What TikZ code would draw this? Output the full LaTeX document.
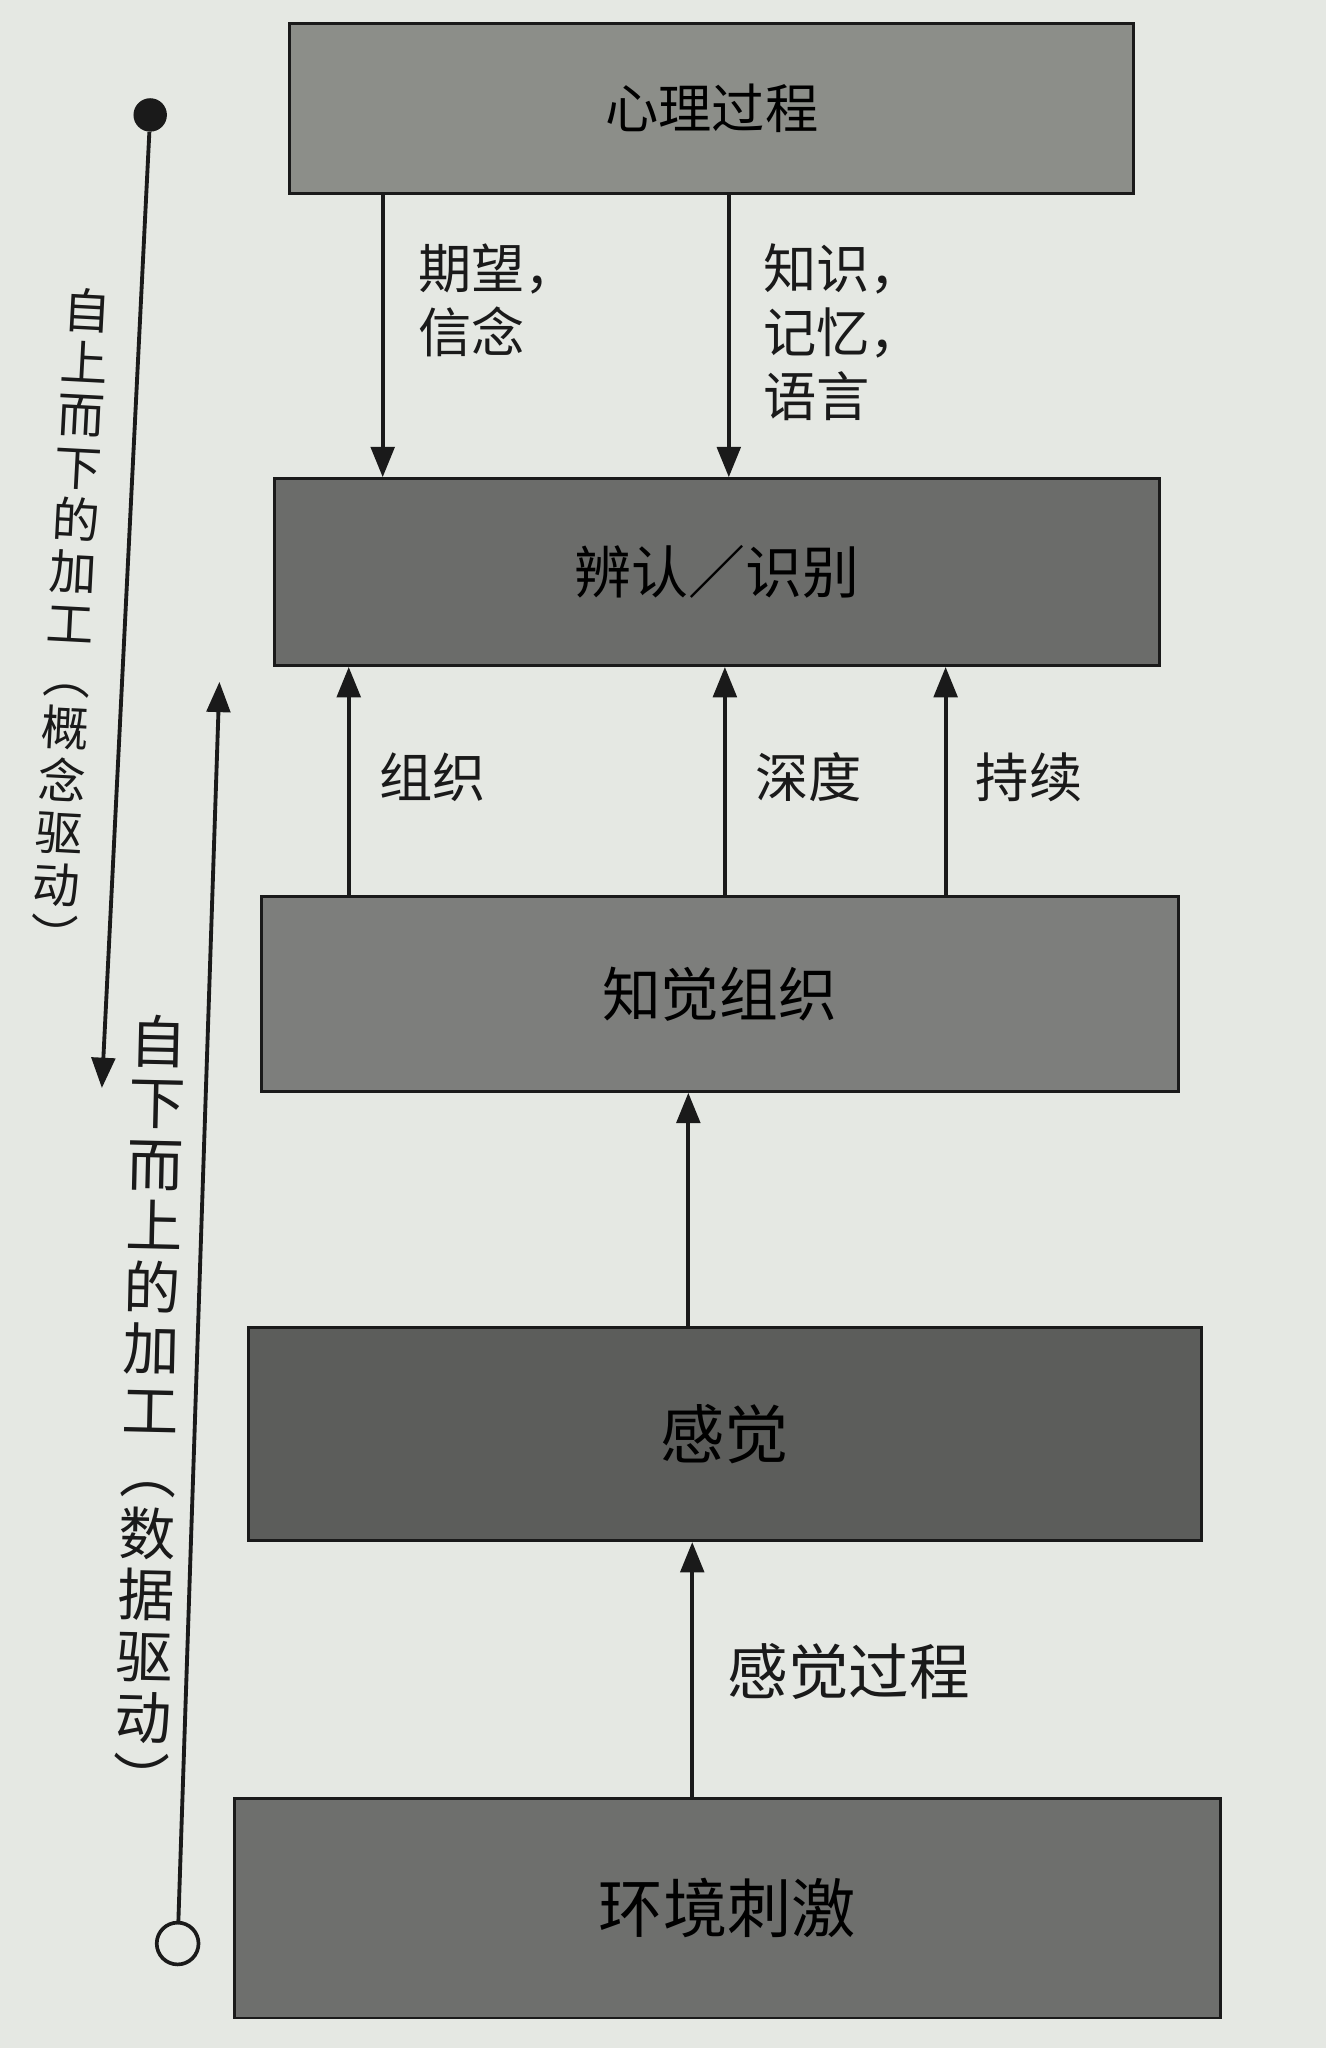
\documentclass[tikz,border=0pt]{standalone}
\usepackage{fontspec}
\setmainfont{Noto Sans CJK SC}
\usetikzlibrary{arrows.meta}
\definecolor{paper}{HTML}{E5E8E3}
\definecolor{bA}{HTML}{8C8E89}
\definecolor{bB}{HTML}{6B6C6A}
\definecolor{bC}{HTML}{7D7E7C}
\definecolor{bD}{HTML}{5C5D5B}
\definecolor{bE}{HTML}{6E6F6D}
\definecolor{ink}{HTML}{1A1A1A}
\begin{document}
\begin{tikzpicture}[x=0.025cm,y=-0.025cm,
  box/.style={draw=ink, line width=1.6pt, inner sep=0pt, text=black},
  arr/.style={draw=ink, line width=2.1pt, -{Triangle[length=0.58cm,width=0.45cm]}},
  lab/.style={font=\fontsize{29}{35}\selectfont, align=left, inner sep=0pt, text=ink},
  vlab/.style={align=center, inner sep=0pt, text=ink}]
\useasboundingbox[fill=paper] (0,0) rectangle (1015,1568);
% boxes
\node[box, fill=bA, minimum width=16.15cm, minimum height=3.25cm, font=\fontsize{29}{34}\selectfont] (b1) at (545,83) {心理过程};
\node[box, fill=bB, minimum width=16.95cm, minimum height=3.575cm, font=\fontsize{31}{36}\selectfont] (b2) at (549,438) {辨认／识别};
\node[box, fill=bC, minimum width=17.55cm, minimum height=3.725cm, font=\fontsize{32}{38}\selectfont] (b3) at (551,761) {知觉组织};
\node[box, fill=bD, minimum width=18.25cm, minimum height=4.075cm, font=\fontsize{35}{40}\selectfont] (b4) at (555,1098) {感觉};
\node[box, fill=bE, minimum width=18.875cm, minimum height=4.2cm, font=\fontsize{35}{40}\selectfont] (b5) at (557,1461) {环境刺激};
% arrow columns
\coordinate (xa) at (293,0);
\coordinate (xb) at (558,0);
\coordinate (xc) at (267,0);
\coordinate (xd) at (555,0);
\coordinate (xe) at (724,0);
\coordinate (xf) at (527,0);
\coordinate (xg) at (530,0);
\draw[arr] (b1.south -| xa) -- (b2.north -| xa);
\draw[arr] (b1.south -| xb) -- (b2.north -| xb);
\draw[arr] (b3.north -| xc) -- (b2.south -| xc);
\draw[arr] (b3.north -| xd) -- (b2.south -| xd);
\draw[arr] (b3.north -| xe) -- (b2.south -| xe);
\draw[arr] (b4.north -| xf) -- (b3.south -| xf);
\draw[arr] (b5.north -| xg) -- (b4.south -| xg);
% labels
\node[lab, anchor=north west] (l1) at (320,186) {期望，\\信念};
\node[lab, anchor=north west] (l2) at (584,186) {知识，\\记忆，\\语言};
\node[lab] (l3) at (331,595) {组织};
\node[lab] (l4) at (619,595) {深度};
\node[lab] (l5) at (788,595) {持续};
\node[lab, font=\fontsize{33}{40}\selectfont] (l6) at (650,1280) {感觉过程};
% side indicators
\node[circle, fill=ink, minimum size=0.64cm, inner sep=0pt] (d1) at (115,88) {};
\coordinate (t1) at (78,833);
\draw[arr] (d1) -- (t1);
\node[circle, draw=ink, line width=2pt, fill=paper, minimum size=0.8cm, inner sep=0pt] (d2) at (136,1488) {};
\coordinate (t2) at (168,522);
\draw[arr] (d2) -- (t2);
\node[vlab, rotate=-3, font=\fontsize{26}{28.45}\selectfont] (v1) at (54,476) {自\\上\\而\\下\\的\\加\\工\\︵\\概\\念\\驱\\动\\︶};
\node[vlab, rotate=-1.3, font=\fontsize{31}{33.5}\selectfont] (v2) at (115,1078) {自\\下\\而\\上\\的\\加\\工\\︵\\数\\据\\驱\\动\\︶};
\end{tikzpicture}
\end{document}
